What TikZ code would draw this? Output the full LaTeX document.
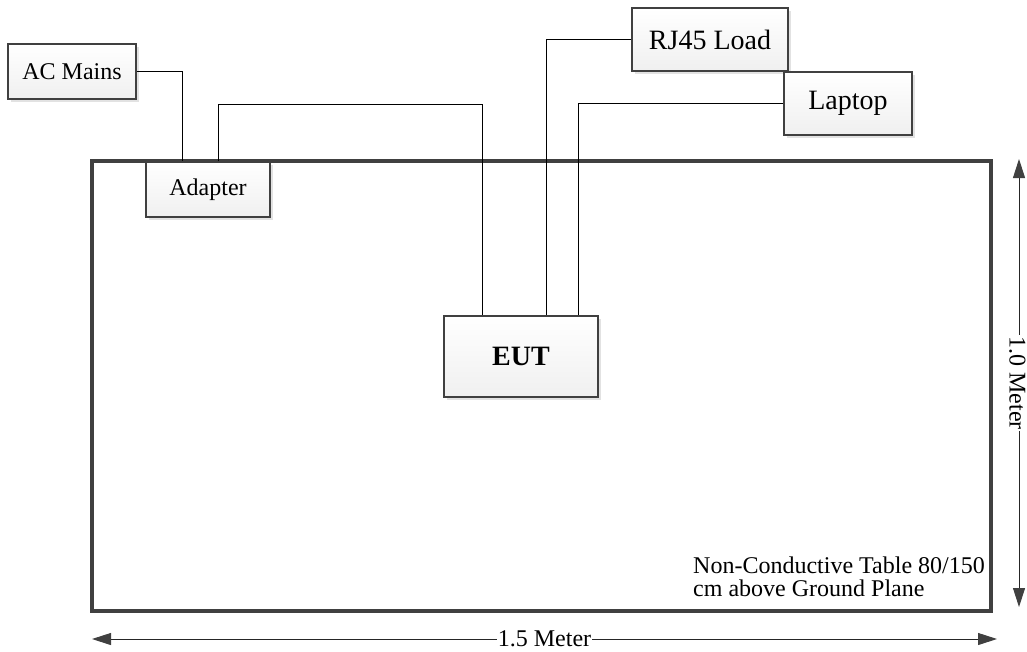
\documentclass[tikz,border=0pt]{standalone}
\usepackage{fontspec}
\setmainfont{Liberation Serif}
\usetikzlibrary{arrows.meta,shadows,calc}
\definecolor{edge}{HTML}{404040}
\tikzset{
  unit/.style={draw=edge, line width=2pt, top color=white, bottom color=gray!12,
    drop shadow={shadow xshift=3pt, shadow yshift=-3pt, fill=gray!45, opacity=0.5},
    inner sep=0pt, font=\fontsize{24}{28}\selectfont},
  bigunit/.style={unit, font=\fontsize{28}{32}\selectfont},
  wire/.style={draw=black, line width=1pt},
  dim/.style={draw=black!85, line width=1pt,
    {Triangle[length=19pt,width=12pt,color=edge]}-{Triangle[length=19pt,width=12pt,color=edge]}},
  dimlabel/.style={fill=white, inner sep=1pt, font=\fontsize{24}{28}\selectfont},
  tablebox/.style={draw=edge, line width=3.5pt}
}
\begin{document}
\begin{tikzpicture}[x=1pt,y=-1pt]
\useasboundingbox (0,0) rectangle (1027,651);
% table
\draw[tablebox] (92,161) rectangle (991,611);
% nodes
\node[unit, minimum width=128pt, minimum height=55pt] (acm) at (72,71.5) {AC Mains};
\node[unit, minimum width=124pt, minimum height=55pt] (adp) at (208,189.5) {Adapter};
\node[unit, minimum width=154pt, minimum height=81pt, font=\fontsize{28}{32}\selectfont\bfseries] (eut) at (521,356.5) {EUT};
\node[bigunit, minimum width=156pt, minimum height=63pt] (rj) at (710,39.5) {RJ45 Load};
\node[bigunit, minimum width=128pt, minimum height=63pt] (lap) at (848,103.5) {Laptop};
% connectors
\draw[wire] (acm) -| ([xshift=37pt]adp.north west);
\draw[wire] ([xshift=73pt]adp.north west) -- ++(0,-57) -| ([xshift=39pt]eut.north west);
\draw[wire] (rj) -| ([xshift=103pt]eut.north west);
\draw[wire] (lap) -| ([xshift=135pt]eut.north west);
% label
\node[anchor=north west, align=left, inner sep=0pt, font=\fontsize{24}{23}\selectfont] (lbl) at (693,557)
  {Non-Conductive Table 80/150\\cm above Ground Plane};
% dimensions
\coordinate (h1) at (92,639);
\coordinate (h2) at (997,639);
\coordinate (v1) at (1019,159);
\coordinate (v2) at (1019,607);
\draw[dim] (h1) -- node[dimlabel] (hl) {1.5 Meter} (h2);
\draw[dim] (v1) -- node[dimlabel, rotate=-90, yshift=-1.5pt] (vl) {1.0 Meter} (v2);
\end{tikzpicture}
\end{document}
